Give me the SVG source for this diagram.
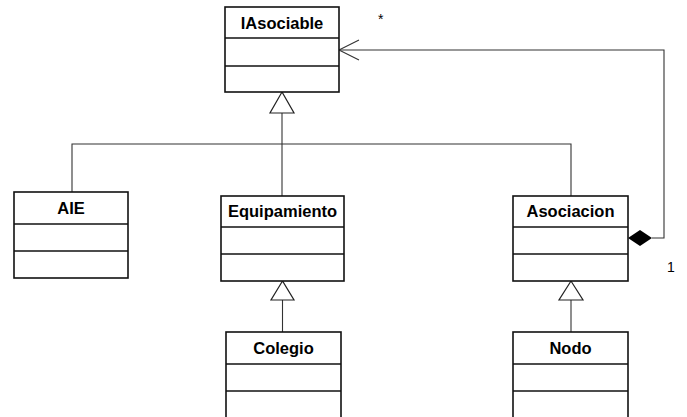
<svg xmlns="http://www.w3.org/2000/svg" width="687" height="417" viewBox="0 0 687 417">
<style>
.box{fill:#fff;stroke:#111;stroke-width:1.6}
.div{stroke:#111;stroke-width:1.6}
.t{font-family:"Liberation Sans",Arial,sans-serif;font-weight:bold;font-size:16.5px;text-anchor:middle;fill:#000}
.lbl{font-family:"Liberation Sans",Arial,sans-serif;font-size:14px;fill:#000}
.c{fill:none;stroke:#333;stroke-width:1.1}
.gen{fill:#fff;stroke:#222;stroke-width:1.2}
</style>
<rect width="687" height="417" fill="#fff"/>
<g id="connectors">
  <polyline class="c" points="72,192 72,144 571,144 571,196"/>
  <line class="c" x1="282" y1="113" x2="282" y2="196"/>
  <polygon class="gen" points="282,92 270,113 294,113"/>
  <line class="c" x1="282.5" y1="300" x2="282.5" y2="332"/>
  <polygon class="gen" points="282.5,281 271,300 294,300"/>
  <line class="c" x1="571" y1="300" x2="571" y2="332"/>
  <polygon class="gen" points="571,281 559,300 583,300"/>
  <polyline class="c" points="652,238 664,238 664,50 339,50"/>
  <polyline class="c" points="359,40 339,50 359,60"/>
  <polygon points="628,238 640,230 652,238 640,246" fill="#000"/>
  <text class="lbl" x="378" y="24">*</text>
  <text class="lbl" x="667" y="272">1</text>
</g>
<g id="IAsociable">
  <rect class="box" x="225" y="7" width="114" height="85"/>
  <line class="div" x1="225" y1="38" x2="339" y2="38"/>
  <line class="div" x1="225" y1="66" x2="339" y2="66"/>
  <text class="t" x="282" y="28.5">IAsociable</text>
</g>
<g id="AIE">
  <rect class="box" x="14" y="192" width="114" height="86"/>
  <line class="div" x1="14" y1="224" x2="128" y2="224"/>
  <line class="div" x1="14" y1="251" x2="128" y2="251"/>
  <text class="t" x="71" y="214">AIE</text>
</g>
<g id="Equipamiento">
  <rect class="box" x="221" y="196" width="123" height="85"/>
  <line class="div" x1="221" y1="227" x2="344" y2="227"/>
  <line class="div" x1="221" y1="254" x2="344" y2="254"/>
  <text class="t" x="282.5" y="216.5">Equipamiento</text>
</g>
<g id="Asociacion">
  <rect class="box" x="513" y="196" width="115" height="85"/>
  <line class="div" x1="513" y1="227" x2="628" y2="227"/>
  <line class="div" x1="513" y1="254" x2="628" y2="254"/>
  <text class="t" x="570.5" y="216.5">Asociacion</text>
</g>
<g id="Colegio">
  <rect class="box" x="226" y="332" width="115" height="90"/>
  <line class="div" x1="226" y1="364" x2="341" y2="364"/>
  <line class="div" x1="226" y1="391" x2="341" y2="391"/>
  <text class="t" x="283.5" y="353.5">Colegio</text>
</g>
<g id="Nodo">
  <rect class="box" x="513" y="332" width="115" height="90"/>
  <line class="div" x1="513" y1="364" x2="628" y2="364"/>
  <line class="div" x1="513" y1="391" x2="628" y2="391"/>
  <text class="t" x="570.5" y="353.5">Nodo</text>
</g>
</svg>
